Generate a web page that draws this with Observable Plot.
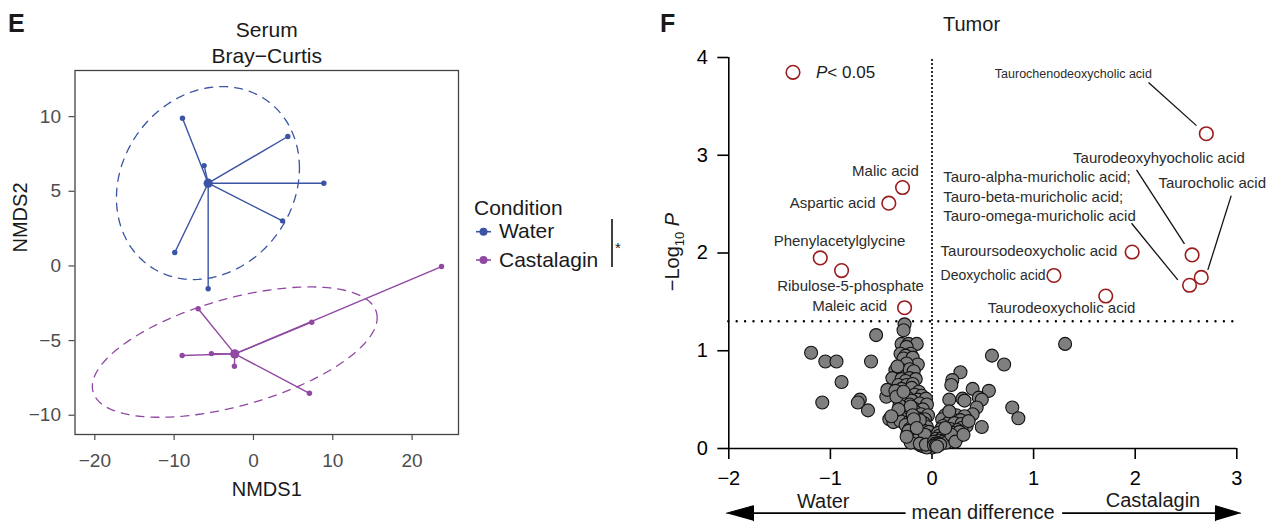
<!DOCTYPE html>
<html><head><meta charset="utf-8">
<script src="https://cdn.jsdelivr.net/npm/d3@7"></script>
<script src="https://cdn.jsdelivr.net/npm/@observablehq/plot@0.6"></script>
<style>
body{margin:0;background:#fff;}
#wrap{position:relative;width:1273px;height:522px;overflow:hidden;background:#fff;}
#wrap > *{position:absolute;top:0;}
</style></head><body><div id="wrap"></div>
<script>
const FONT = '"Liberation Sans", Arial, Helvetica, sans-serif';

// ---------- Panel E data (NMDS, Bray-Curtis) ----------
const conditions = ["Water", "Castalagin"];
const conditionColors = ["#3a53a4", "#9048a2"];
const waterNMDS1 = [-8.95, 4.33, -6.22, 8.87, 3.66, -9.92, -5.71];
const waterNMDS2 = [9.89, 8.67, 6.72, 5.54, 3.02, 0.90, -1.53];
const castNMDS1 = [-6.97, -8.99, -5.30, -2.40, 7.35, 7.06, 23.71];
const castNMDS2 = [-2.87, -6.00, -5.87, -6.72, -3.77, -8.53, -0.04];
const centroidNMDS1 = [-5.71, -2.36];
const centroidNMDS2 = [5.54, -5.89];
// ellipse: centre and covariance-like shape (sxx, sxy, syy)
const ellipseCX = [-5.74, -2.36];
const ellipseCY = [5.55, -5.77];
const ellipseSxx = [133.1, 322.5];
const ellipseSxy = [11.59, 41.38];
const ellipseSyy = [41.78, 19.07];
const nmdsXTicks = [-20, -10, 0, 10, 20];
const nmdsYTicks = [-10, -5, 0, 5, 10];

// ---------- Panel F data (volcano) ----------
const nsMeanDiff = [
-1.19,-1.05,-0.94,-0.89,-1.08,-0.55,-0.60,-0.71,-0.73,-0.63,-0.45,-0.42,-0.38,
-0.27,-0.28,-0.30,-0.23,-0.15,-0.25,-0.31,-0.21,-0.26,-0.28,-0.19,-0.14,-0.25,
-0.36,-0.29,-0.22,-0.18,-0.39,-0.30,-0.22,-0.16,-0.26,-0.33,-0.25,-0.19,
-0.44,-0.30,-0.20,-0.13,-0.36,-0.27,-0.17,-0.10,-0.33,-0.24,-0.14,-0.06,-0.20,
-0.29,-0.22,-0.12,-0.05,-0.26,-0.18,-0.09,-0.27,-0.17,-0.11,-0.04,-0.22,
-0.24,-0.14,-0.07,-0.30,-0.31,-0.22,-0.15,-0.08,-0.19,-0.12,-0.26,-0.17,-0.10,-0.05,
-0.22,-0.14,-0.08,-0.03,-0.18,-0.24,-0.16,-0.10,-0.05,-0.13,-0.20,-0.14,-0.08,-0.03,
-0.11,-0.17,-0.10,-0.05,-0.13,-0.14,-0.09,-0.04,-0.02,-0.11,-0.06,-0.01,-0.08,-0.03,0.01,0.00,-0.05,
-0.34,-0.32,-0.21,-0.12,-0.35,-0.28,-0.19,-0.23,-0.16,-0.07,-0.21,-0.12,-0.18,-0.06,-0.15,-0.25,-0.33,-0.40,
0.28,0.20,0.19,0.59,0.71,0.40,0.56,0.30,0.32,0.17,0.46,0.49,0.44,0.40,0.79,0.85,0.49,1.31,0.25,
0.13,0.24,0.32,0.10,0.20,0.28,0.16,0.22,0.29,0.11,0.34,0.29,0.09,0.18,0.25,0.16,0.06,0.22,
0.07,0.12,0.26,0.04,0.09,0.14,0.07,0.02,0.11,0.03,0.06,0.02,0.04,0.17,
0.14,0.21,0.27,0.08,0.19,0.05,0.13,0.23,0.36,0.31
];
const nsNegLogP = [
0.98,0.89,0.89,0.68,0.47,1.16,0.89,0.50,0.47,0.39,0.53,0.30,0.27,
1.27,1.21,1.07,1.07,1.07,1.04,0.97,0.97,0.95,0.92,0.93,0.86,0.87,
0.80,0.80,0.81,0.79,0.72,0.71,0.72,0.71,0.69,0.65,0.65,0.66,
0.60,0.61,0.62,0.58,0.59,0.55,0.55,0.54,0.51,0.52,0.50,0.51,0.49,
0.46,0.45,0.46,0.45,0.41,0.41,0.40,0.37,0.38,0.35,0.34,0.36,
0.32,0.31,0.30,0.31,0.28,0.28,0.27,0.26,0.25,0.23,0.24,0.22,0.21,0.22,
0.20,0.19,0.18,0.17,0.17,0.16,0.15,0.14,0.13,0.12,0.12,0.10,0.10,0.09,
0.08,0.09,0.07,0.07,0.06,0.05,0.05,0.05,0.04,0.03,0.03,0.03,0.02,0.02,0.02,0.01,0.01,
0.84,0.44,0.43,0.29,0.53,0.58,0.34,0.18,0.08,0.14,0.06,0.05,0.30,0.04,0.21,0.12,0.40,0.33,
0.78,0.70,0.65,0.95,0.86,0.61,0.59,0.51,0.49,0.50,0.52,0.50,0.42,0.35,0.42,0.31,0.22,1.07,0.12,
0.34,0.34,0.33,0.30,0.30,0.29,0.26,0.26,0.25,0.23,0.23,0.21,0.20,0.20,0.19,0.16,0.16,0.16,
0.13,0.13,0.12,0.10,0.10,0.10,0.08,0.07,0.07,0.05,0.05,0.03,0.03,0.38,
0.06,0.11,0.17,0.04,0.14,0.02,0.21,0.07,0.28,0.14
];
const sigNames = ["Malic acid","Aspartic acid","Phenylacetylglycine","Ribulose-5-phosphate","Maleic acid",
  "Taurochenodeoxycholic acid","Taurodeoxyhyocholic acid","Taurocholic acid",
  "Tauro-alpha-muricholic acid;\nTauro-beta-muricholic acid;\nTauro-omega-muricholic acid",
  "Tauroursodeoxycholic acid","Deoxycholic acid","Taurodeoxycholic acid"];
const sigMeanDiff = [-0.29,-0.425,-1.10,-0.89,-0.27,2.70,2.56,2.65,2.535,1.97,1.20,1.71];
const sigNegLogP = [2.67,2.51,1.95,1.82,1.44,3.22,1.98,1.75,1.67,2.01,1.77,1.56];
const pThreshold = 0.05;
const volcanoXTicks = [-2, -1, 0, 1, 2, 3];
const volcanoYTicks = [0, 1, 2, 3, 4];

// annotation placement (data units)
const labelX = [-0.13,-0.556,-0.91,-0.802,-0.441,1.391,2.234,2.758,0.11,0.084,0.084,1.275];
const labelY = [2.791,2.46,2.068,1.608,1.404,3.79,2.92,2.665,2.324,1.966,1.728,1.387];
const labelAnchor = ["end","end","middle","middle","end","middle","middle","middle","start","start","start","middle"];
const labelSize = [15,15,15,15,15,12.5,15,15,15,15,14,15];
const leaderX1 = [2.131,2.013,2.945,1.964];
const leaderY1 = [3.745,2.85,2.587,2.304];
const leaderX2 = [2.603,2.485,2.715,2.419];
const leaderY2 = [3.303,2.093,1.827,1.725];

// ---------- build E ----------
const ePts = [
  ...waterNMDS1.map((x,i)=>({cond:"Water", x, y: waterNMDS2[i], cx: centroidNMDS1[0], cy: centroidNMDS2[0]})),
  ...castNMDS1.map((x,i)=>({cond:"Castalagin", x, y: castNMDS2[i], cx: centroidNMDS1[1], cy: centroidNMDS2[1]}))
];
const eCent = conditions.map((c,i)=>({cond:c, x: centroidNMDS1[i], y: centroidNMDS2[i]}));
const eEll = conditions.flatMap((c,i)=>{
  const l11 = Math.sqrt(ellipseSxx[i]);
  const l21 = ellipseSxy[i]/l11;
  const l22 = Math.sqrt(ellipseSyy[i] - l21*l21);
  return d3.range(0, 121).map(k=>{
    const t = 2*Math.PI*k/120;
    return {cond:c, x: ellipseCX[i] + l11*Math.cos(t), y: ellipseCY[i] + l21*Math.cos(t) + l22*Math.sin(t)};
  });
});
const colorScale = {domain: conditions, range: conditionColors};

const plotE = Plot.plot({
  width: 640, height: 522,
  marginLeft: 74.5, marginRight: 182, marginTop: 70, marginBottom: 88,
  x: {domain: [-22.5, 25.85]},
  y: {domain: [-11.29, 13.09]},
  color: colorScale,
  style: {fontFamily: FONT, fontSize: "19px", color: "#4d4d4d", background: "transparent"},
  marks: [
    Plot.axisX({ticks: nmdsXTicks, tickFormat: d3.format("d"), tickSize: 6, tickPadding: 13, label: null, strokeWidth: 1.2}),
    Plot.axisY({ticks: nmdsYTicks, tickFormat: d3.format("d"), tickSize: 6, tickPadding: 8, label: null, strokeWidth: 1.2}),
    Plot.line(eEll, {x:"x", y:"y", z:"cond", stroke:"cond", strokeWidth:1.3, strokeDasharray:"8,7"}),
    Plot.link(ePts, {x1:"cx", y1:"cy", x2:"x", y2:"y", stroke:"cond", strokeWidth:1.4}),
    Plot.dot(ePts, {x:"x", y:"y", r:2.7, fill:"cond"}),
    Plot.dot(eCent, {x:"x", y:"y", r:4.6, fill:"cond"}),
    Plot.frame({stroke:"#444", strokeWidth:1.3}),
    Plot.text(["Serum"], {frameAnchor:"top", dy:-34, lineAnchor:"bottom", fontSize:21, fill:"#1a1a1a"}),
    Plot.text(["Bray−Curtis"], {frameAnchor:"top", dy:-8, lineAnchor:"bottom", fontSize:21, fill:"#1a1a1a"}),
    Plot.text(["NMDS1"], {frameAnchor:"bottom", dy:61, lineAnchor:"bottom", fontSize:20, fill:"#1a1a1a"}),
    Plot.text(["NMDS2"], {frameAnchor:"left", dx:-48, lineAnchor:"bottom", rotate:-90, fontSize:20, fill:"#1a1a1a"})
  ]
});
plotE.style.left = "0px";

// ---------- build F ----------
const ns = nsMeanDiff.map((x,i)=>({x, y: nsNegLogP[i]}));
const sig = sigNames.map((name,i)=>({name, x: sigMeanDiff[i], y: sigNegLogP[i],
  lx: labelX[i], ly: labelY[i], anchor: labelAnchor[i], size: labelSize[i]}));
const leaders = leaderX1.map((x1,i)=>({x1, y1: leaderY1[i], x2: leaderX2[i], y2: leaderY2[i]}));
const thr = -Math.log10(pThreshold);
const arrowY = -0.662, headH = 0.077;
const leftHead = [{x:-2.023,y:arrowY},{x:-1.757,y:arrowY+headH},{x:-1.757,y:arrowY-headH}];
const rightHead = [{x:3.037,y:arrowY},{x:2.79,y:arrowY+headH},{x:2.79,y:arrowY-headH}];
const labelMark = (anchor, size) => Plot.text(sig.filter(d=>d.anchor===anchor && d.size===size),
  {x:"lx", y:"ly", text:"name", textAnchor: anchor, lineAnchor:"bottom", lineHeight:1.31, fontSize:size, fill:"#2b2b2b"});

const plotF = Plot.plot({
  width: 633, height: 522,
  marginLeft: 88.3, marginRight: 36.7, marginTop: 57, marginBottom: 74,
  x: {domain: [-2, 3]},
  y: {domain: [0, 4]},
  style: {fontFamily: FONT, fontSize: "20px", color: "#000", background: "transparent"},
  marks: [
    Plot.axisX({ticks: volcanoXTicks, tickFormat: d3.format("d"), tickSize: 11, tickPadding: 11, label: null, strokeWidth: 1.6}),
    Plot.axisY({ticks: volcanoYTicks, tickFormat: d3.format("d"), tickSize: 11, tickPadding: 10, label: null, strokeWidth: 1.6}),
    Plot.ruleX([-2], {y1: 0, y2: 4, strokeWidth: 1.6}),
    Plot.ruleY([0], {x1: -2, x2: 3, strokeWidth: 1.6}),
    Plot.ruleX([0], {y1: 0, y2: 4, strokeWidth: 2.2, strokeDasharray: "0,4", strokeLinecap: "round"}),
    Plot.ruleY([thr], {x1: -2, x2: 3, strokeWidth: 2.4, strokeDasharray: "0,8.4", strokeLinecap: "round"}),
    Plot.dot(ns, {x:"x", y:"y", r:6.5, fill:"#7f7f7f", stroke:"#111", strokeWidth:1.1}),
    Plot.dot(sig, {x:"x", y:"y", r:6.8, fill:"none", stroke:"#9b1c1f", strokeWidth:1.6}),
    Plot.link(leaders, {x1:"x1", y1:"y1", x2:"x2", y2:"y2", stroke:"#111", strokeWidth:1.3}),
    labelMark("end", 15),
    labelMark("middle", 15),
    labelMark("start", 15),
    labelMark("start", 14),
    labelMark("middle", 12.5),
    Plot.text(["Tumor"], {x:[0.389], y:[4.274], lineAnchor:"bottom", fontSize:20, fill:"#1a1a1a"}),
    Plot.text(["Water"], {x:[-1.071], y:[-0.606], lineAnchor:"bottom", fontSize:20, fill:"#1a1a1a"}),
    Plot.text(["Castalagin"], {x:[2.175], y:[-0.60], lineAnchor:"bottom", fontSize:20, fill:"#1a1a1a"}),
    Plot.text(["mean difference"], {x:[0.502], y:[-0.719], lineAnchor:"bottom", fontSize:20, fill:"#1a1a1a"}),
    Plot.link([{x1:-1.757, x2:-0.26},{x1:1.281, x2:2.79}], {x1:"x1", x2:"x2", y1:()=>arrowY, y2:()=>arrowY, stroke:"#000", strokeWidth:1.8}),
    Plot.line(leftHead, {x:"x", y:"y", fill:"#000", stroke:"#000", strokeWidth:1}),
    Plot.line(rightHead, {x:"x", y:"y", fill:"#000", stroke:"#000", strokeWidth:1})
  ]
});
plotF.style.left = "640px";

const wrap = document.getElementById("wrap");
wrap.appendChild(plotE);
wrap.appendChild(plotF);

// ---------- overlay: panel letters, legends, y label of F ----------
const ov = d3.create("svg").attr("width",1273).attr("height",522)
  .style("left","0px").style("pointer-events","none").style("font-family", FONT);
ov.append("text").attr("x",8).attr("y",32).attr("font-size",25).attr("font-weight","bold").attr("fill","#1a1a1a").text("E");
ov.append("text").attr("x",660).attr("y",32).attr("font-size",25).attr("font-weight","bold").attr("fill","#1a1a1a").text("F");

// legend E
ov.append("text").attr("x",474).attr("y",215).attr("font-size",21).attr("fill","#1a1a1a").text("Condition");
const legY = [231.7, 260];
const legBase = [238, 266.7];
conditions.forEach((c,i)=>{
  ov.append("line").attr("x1",476).attr("x2",491).attr("y1",legY[i]).attr("y2",legY[i]).attr("stroke",conditionColors[i]).attr("stroke-width",1.6);
  ov.append("circle").attr("cx",483.5).attr("cy",legY[i]).attr("r",4).attr("fill",conditionColors[i]);
  ov.append("text").attr("x",499).attr("y",legBase[i]).attr("font-size",21).attr("fill","#1a1a1a").text(c);
});
ov.append("line").attr("x1",612).attr("x2",612).attr("y1",219).attr("y2",267).attr("stroke","#000").attr("stroke-width",1.5);
ov.append("text").attr("x",615).attr("y",253).attr("font-size",15).attr("fill","#1a1a1a").text("*");

// legend F
ov.append("circle").attr("cx",793).attr("cy",72.3).attr("r",6.8).attr("fill","none").attr("stroke","#9b1c1f").attr("stroke-width",1.6);
const pl = ov.append("text").attr("x",816).attr("y",78).attr("font-size",17).attr("fill","#1a1a1a");
pl.append("tspan").attr("font-style","italic").text("P");
pl.append("tspan").text("< 0.05");

// y label F
const yl = ov.append("text").attr("transform","translate(679,252) rotate(-90)").attr("text-anchor","middle").attr("font-size",20).attr("fill","#1a1a1a");
yl.append("tspan").text("−Log");
yl.append("tspan").attr("font-size",13).attr("dy",5).text("10");
yl.append("tspan").attr("dy",-5).text(" ");
yl.append("tspan").attr("font-style","italic").text("P");

wrap.appendChild(ov.node());
</script>
</body></html>
